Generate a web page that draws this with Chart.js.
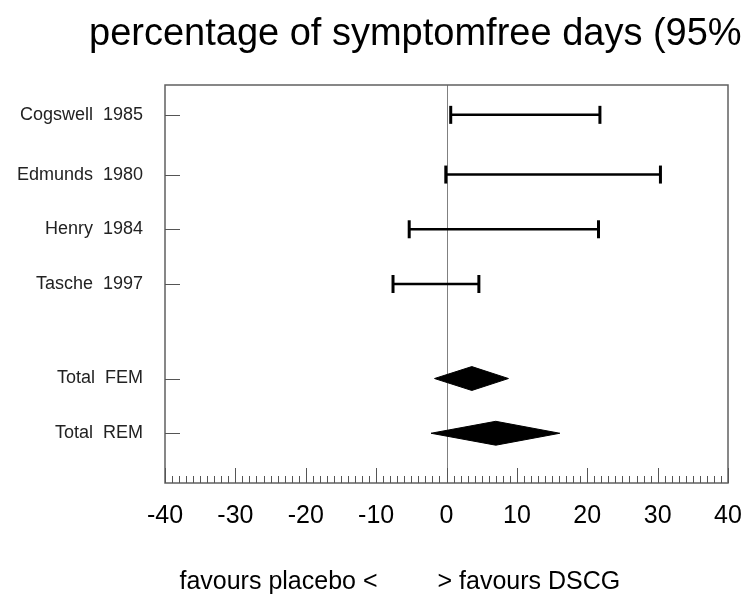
<!DOCTYPE html>
<html>
<head>
<meta charset="utf-8">
<script src="https://cdn.jsdelivr.net/npm/chart.js@4/dist/chart.umd.min.js"></script>
<style>
  body { margin: 0; background: #fff; }
  #wrap { width: 744px; height: 604px; }
</style>
</head>
<body>
<div id="wrap"><canvas id="chart-canvas" width="744" height="604"></canvas></div>
<script>
// rows of the forest plot, top to bottom
const studies = ['Cogswell  1985', 'Edmunds  1980', 'Henry  1984', 'Tasche  1997', 'Total  FEM', 'Total  REM']
const rowPos = [0.6, 1.8, 2.9, 4.0, 5.9, 7.0]

// single studies: 95% CI
const ciLow = [0.6, -0.1, -5.3, -7.6]
const ciHigh = [21.8, 30.4, 21.6, 4.6]

// pooled estimates (diamonds)
const poolLow = [-1.7, -2.2]
const poolEst = [3.6, 7.0]
const poolHigh = [8.8, 16.1]

const xTicks = [-40, -30, -20, -10, 0, 10, 20, 30, 40]

const FONT = '"Liberation Sans", Arial, sans-serif'
const DIAMOND_HALF = 0.24

function buildDatasets() {
  const sets = []
  ciLow.forEach((lo, i) => {
    sets.push({
      data: [{ x: lo, y: rowPos[i] }, { x: ciHigh[i], y: rowPos[i] }],
      showLine: true,
      borderColor: '#000',
      borderWidth: 2.5,
      pointStyle: 'line',
      rotation: 90,
      pointRadius: 9,
      pointHoverRadius: 9,
      pointBorderWidth: 3,
      pointBorderColor: '#000'
    })
  })
  poolEst.forEach((est, j) => {
    const y = rowPos[ciLow.length + j]
    sets.push({
      data: [
        { x: poolLow[j], y: y },
        { x: est, y: y - DIAMOND_HALF },
        { x: poolHigh[j], y: y },
        { x: est, y: y + DIAMOND_HALF },
        { x: poolLow[j], y: y }
      ],
      showLine: true,
      fill: 'shape',
      tension: 0,
      borderColor: '#000',
      backgroundColor: '#000',
      borderWidth: 1,
      pointRadius: 0
    })
  })
  return sets
}

const decor = {
  id: 'decor',
  beforeDatasetsDraw(chart) {
    const { ctx, chartArea: a, scales } = chart
    const x0 = scales.x.getPixelForValue(0)
    ctx.save()
    ctx.strokeStyle = '#808080'
    ctx.lineWidth = 1
    ctx.beginPath()
    ctx.moveTo(Math.round(x0) + 0.5, a.top)
    ctx.lineTo(Math.round(x0) + 0.5, a.bottom)
    ctx.stroke()
    ctx.restore()
  },
  afterDraw(chart) {
    const { ctx, chartArea: a, scales } = chart
    ctx.save()
    // frame
    ctx.strokeStyle = '#606060'
    ctx.lineWidth = 1.5
    ctx.strokeRect(a.left, a.top, a.right - a.left, a.bottom - a.top)

    // x ticks, pointing inward
    ctx.strokeStyle = '#555'
    ctx.lineWidth = 1
    for (let v = xTicks[0]; v <= xTicks[xTicks.length - 1]; v++) {
      const px = Math.round(scales.x.getPixelForValue(v)) + 0.5
      const len = xTicks.includes(v) ? 15 : 7
      ctx.beginPath()
      ctx.moveTo(px, a.bottom)
      ctx.lineTo(px, a.bottom - len)
      ctx.stroke()
    }
    // y ticks, pointing inward
    rowPos.forEach(r => {
      const py = Math.round(scales.y.getPixelForValue(r)) + 0.5
      ctx.beginPath()
      ctx.moveTo(a.left, py)
      ctx.lineTo(a.left + 15, py)
      ctx.stroke()
    })

    // title
    ctx.fillStyle = '#000'
    ctx.font = '38px ' + FONT
    ctx.textAlign = 'left'
    ctx.textBaseline = 'alphabetic'
    ctx.fillText('percentage of symptomfree days (95%', 89, 45)

    // axis caption
    const x0 = scales.x.getPixelForValue(0)
    ctx.font = '25px ' + FONT
    ctx.textAlign = 'right'
    ctx.fillText('favours placebo <', x0 - 69, 589)
    ctx.textAlign = 'left'
    ctx.fillText('> favours DSCG', x0 - 9, 589)
    ctx.restore()
  }
}

const ctx = document.querySelector('#chart-canvas')
new Chart(ctx, {
  type: 'scatter',
  data: { datasets: buildDatasets() },
  options: {
    responsive: false,
    animation: false,
    layout: { padding: { top: 85, right: 16, left: 0, bottom: 0 } },
    plugins: {
      legend: { display: false },
      tooltip: { enabled: false },
      title: { display: false }
    },
    scales: {
      x: {
        type: 'linear',
        min: xTicks[0],
        max: xTicks[xTicks.length - 1],
        afterBuildTicks: scale => { scale.ticks = xTicks.map(v => ({ value: v })) },
        afterFit: scale => {
          scale.height = 121
          scale.paddingLeft = 0
          scale.paddingRight = 0
        },
        grid: { display: false, drawTicks: false },
        border: { display: false },
        ticks: {
          padding: 18,
          maxRotation: 0,
          autoSkip: false,
          color: '#000',
          font: { family: FONT, size: 25 }
        }
      },
      y: {
        type: 'linear',
        min: 0,
        max: 8,
        reverse: true,
        afterBuildTicks: scale => { scale.ticks = rowPos.map(v => ({ value: v })) },
        afterFit: scale => { scale.width = 165 },
        grid: { display: false, drawTicks: false },
        border: { display: false },
        ticks: {
          padding: 22,
          autoSkip: false,
          color: '#222',
          font: { family: FONT, size: 18 },
          callback: (value, index) => studies[index]
        }
      }
    }
  },
  plugins: [decor]
})
</script>
</body>
</html>
